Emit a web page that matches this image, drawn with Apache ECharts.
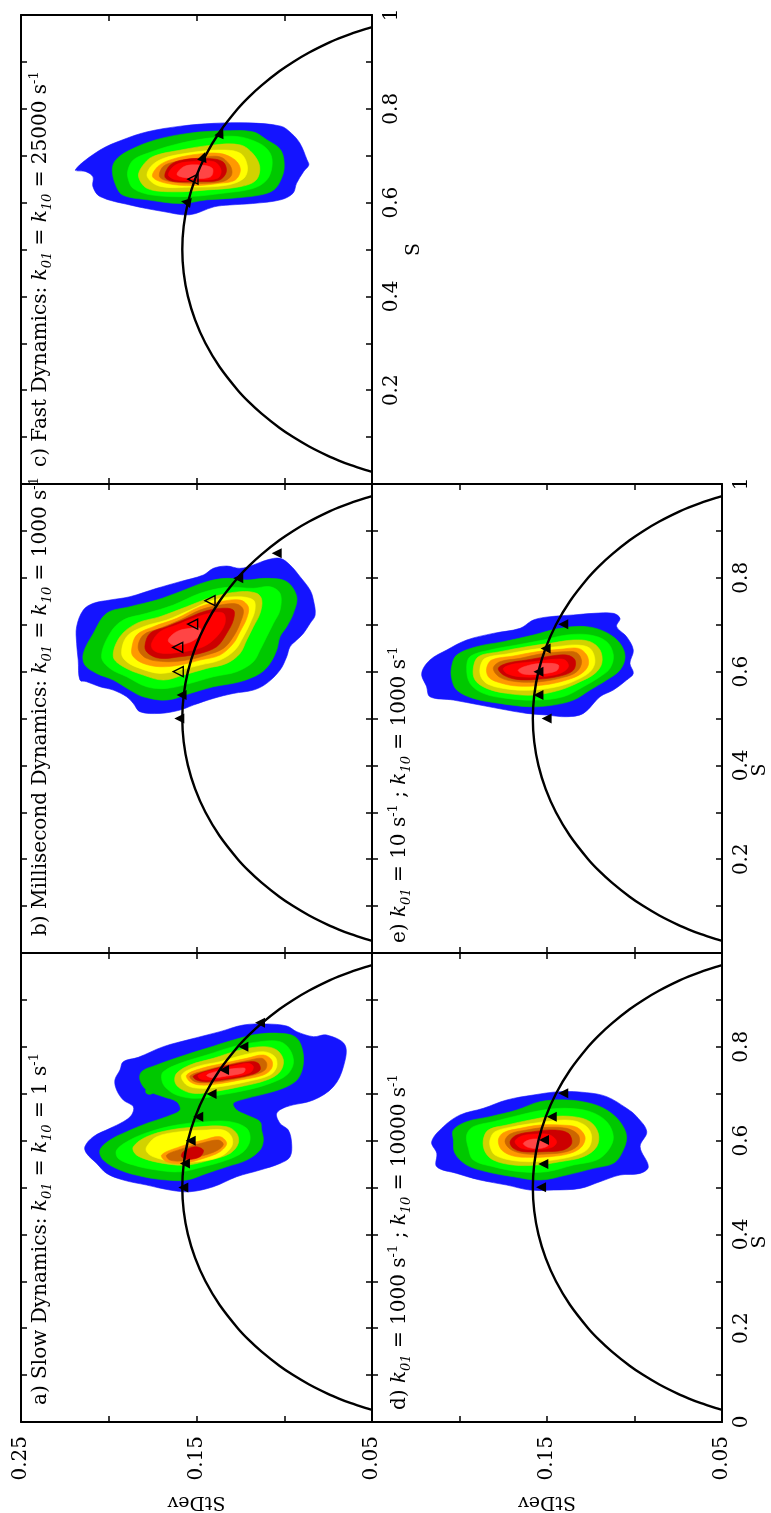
<!DOCTYPE html>
<html><head><meta charset="utf-8">
<script src="https://cdn.jsdelivr.net/npm/echarts@6/dist/echarts.min.js"></script>
<style>html,body{margin:0;padding:0;background:#fff}#chart{width:771px;height:1513px}</style>
</head><body><div id="chart"></div>
<script>
// ---------------- DATA ----------------
// theoretical curve StDev vs S
const arcS  = [0.0257,0.03,0.04,0.05,0.06,0.08,0.1,0.12,0.15,0.175,0.2,0.25,0.3,0.35,0.4,0.45,0.5,0.55,0.6,0.65,0.7,0.75,0.8,0.825,0.85,0.88,0.9,0.92,0.94,0.95,0.96,0.97,0.9743];
const arcSD = [0.0500,0.0539,0.0620,0.0689,0.0751,0.0858,0.0949,0.1028,0.1129,0.1202,0.1265,0.1369,0.1449,0.1508,0.1549,0.1573,0.1581,0.1573,0.1549,0.1508,0.1449,0.1369,0.1265,0.1202,0.1129,0.1028,0.0949,0.0858,0.0751,0.0689,0.0620,0.0539,0.0500];

const sdTickLabelsLeft  = [0.25, 0.15, 0.05];
const sdTickLabelsRight = [0.15, 0.05];
const sTickLabelsC = [0.2, 0.4, 0.6, 0.8, 1];
const sTickLabelsE = [0.2, 0.4, 0.6, 0.8, 1];
const sTickLabelsD = [0, 0.2, 0.4, 0.6, 0.8];

const titleA = 'a) Slow Dynamics: {i|k}{sub|01} = {i|k}{sub|10} = 1 s{sup|-1}';
const titleB = 'b) Millisecond Dynamics: {i|k}{sub|01} = {i|k}{sub|10} = 1000 s{sup|-1}';
const titleC = 'c) Fast Dynamics: {i|k}{sub|01} = {i|k}{sub|10} = 25000 s{sup|-1}';
const titleD = 'd) {i|k}{sub|01} = 1000 s{sup|-1} ; {i|k}{sub|10} = 10000 s{sup|-1}';
const titleE = 'e) {i|k}{sub|01} = 10 s{sup|-1} ; {i|k}{sub|10} = 1000 s{sup|-1}';

// contour levels: [levelIndex, [[StDev, S], ...]]
const contourC = [
 [0,[[0.219,0.670],[0.205,0.712],[0.192,0.734],[0.178,0.751],[0.159,0.763],[0.140,0.769],[0.121,0.770],[0.102,0.763],[0.096,0.748],[0.091,0.726],[0.087,0.691],[0.086,0.680],[0.089,0.666],[0.093,0.641],[0.095,0.620],[0.102,0.606],[0.118,0.598],[0.131,0.595],[0.140,0.591],[0.154,0.574],[0.169,0.581],[0.188,0.595],[0.205,0.613],[0.209,0.634],[0.209,0.655],[0.213,0.666]]],
 [1,[[0.198,0.670],[0.196,0.691],[0.188,0.712],[0.173,0.734],[0.154,0.748],[0.135,0.753],[0.118,0.751],[0.110,0.734],[0.102,0.712],[0.100,0.677],[0.102,0.648],[0.106,0.627],[0.114,0.616],[0.131,0.609],[0.144,0.606],[0.159,0.598],[0.178,0.606],[0.192,0.616],[0.196,0.637]]],
 [2,[[0.189,0.670],[0.186,0.691],[0.178,0.705],[0.163,0.723],[0.144,0.737],[0.127,0.741],[0.114,0.726],[0.108,0.705],[0.107,0.677],[0.110,0.648],[0.118,0.630],[0.135,0.620],[0.154,0.613],[0.175,0.616],[0.186,0.630],[0.189,0.652]]],
 [3,[[0.183,0.655],[0.181,0.677],[0.175,0.698],[0.159,0.712],[0.140,0.723],[0.125,0.723],[0.118,0.705],[0.114,0.677],[0.116,0.648],[0.125,0.634],[0.144,0.627],[0.163,0.623],[0.178,0.630]]],
 [4,[[0.178,0.655],[0.176,0.677],[0.169,0.694],[0.156,0.705],[0.137,0.712],[0.125,0.705],[0.121,0.677],[0.123,0.652],[0.133,0.637],[0.152,0.633],[0.171,0.635]]],
 [5,[[0.175,0.655],[0.172,0.677],[0.165,0.691],[0.152,0.702],[0.137,0.705],[0.128,0.691],[0.125,0.670],[0.128,0.648],[0.137,0.641],[0.152,0.636],[0.167,0.641]]],
 [6,[[0.171,0.655],[0.169,0.677],[0.162,0.687],[0.150,0.694],[0.137,0.698],[0.131,0.680],[0.130,0.659],[0.135,0.645],[0.150,0.641],[0.165,0.645]]],
 [7,[[0.168,0.655],[0.165,0.680],[0.158,0.691],[0.144,0.694],[0.135,0.687],[0.133,0.666],[0.137,0.648],[0.148,0.645],[0.163,0.645]]],
 [8,[[0.166,0.659],[0.162,0.680],[0.154,0.687],[0.140,0.687],[0.136,0.669],[0.138,0.652],[0.150,0.648],[0.161,0.648]]],
 [9,[[0.161,0.659],[0.157,0.677],[0.148,0.680],[0.141,0.673],[0.142,0.655],[0.152,0.652]]]
];
const contourB = [
 [0,[[0.2183,0.6957],[0.2145,0.7313],[0.2088,0.7455],[0.1993,0.7526],[0.1879,0.7597],[0.1727,0.7775],[0.1594,0.7917],[0.1461,0.8059],[0.1404,0.8201],[0.1328,0.8251],[0.1252,0.8201],[0.1176,0.8273],[0.1100,0.8379],[0.1024,0.8415],[0.0967,0.8273],[0.0910,0.8024],[0.0853,0.7739],[0.0834,0.7526],[0.0824,0.7206],[0.0853,0.7028],[0.0891,0.6815],[0.0929,0.6673],[0.0967,0.6531],[0.0986,0.6317],[0.1024,0.6033],[0.1100,0.5749],[0.1176,0.5606],[0.1290,0.5535],[0.1404,0.5429],[0.1518,0.5286],[0.1594,0.5180],[0.1708,0.5109],[0.1822,0.5144],[0.1860,0.5322],[0.1898,0.5464],[0.1974,0.5606],[0.2050,0.5677],[0.2126,0.5784],[0.2164,0.5820],[0.2174,0.6246],[0.2183,0.6602]]],
 [1,[[0.2145,0.6388],[0.2088,0.6815],[0.2012,0.7242],[0.1879,0.7384],[0.1727,0.7526],[0.1594,0.7704],[0.1442,0.7917],[0.1328,0.7988],[0.1214,0.7953],[0.1100,0.7988],[0.0986,0.7917],[0.0929,0.7597],[0.0948,0.7242],[0.0986,0.6957],[0.1024,0.6744],[0.1043,0.6459],[0.1081,0.6175],[0.1138,0.5962],[0.1252,0.5784],[0.1404,0.5677],[0.1537,0.5535],[0.1670,0.5393],[0.1803,0.5464],[0.1879,0.5606],[0.1974,0.5820],[0.2069,0.5962],[0.2136,0.6140]]],
 [2,[[0.2041,0.6317],[0.1993,0.6815],[0.1917,0.7100],[0.1784,0.7242],[0.1632,0.7419],[0.1480,0.7668],[0.1328,0.7796],[0.1176,0.7775],[0.1081,0.7810],[0.1024,0.7668],[0.1024,0.7313],[0.1062,0.7028],[0.1100,0.6744],[0.1138,0.6459],[0.1176,0.6211],[0.1271,0.5997],[0.1404,0.5891],[0.1537,0.5749],[0.1670,0.5642],[0.1784,0.5677],[0.1898,0.5891],[0.1993,0.6068]]],
 [3,[[0.1974,0.6317],[0.1936,0.6744],[0.1841,0.7028],[0.1708,0.7171],[0.1556,0.7384],[0.1404,0.7597],[0.1252,0.7704],[0.1157,0.7668],[0.1128,0.7526],[0.1138,0.7242],[0.1176,0.6957],[0.1214,0.6673],[0.1252,0.6388],[0.1328,0.6175],[0.1442,0.6068],[0.1575,0.5926],[0.1689,0.5820],[0.1803,0.5926],[0.1917,0.6104]]],
 [4,[[0.1927,0.6388],[0.1898,0.6744],[0.1803,0.6957],[0.1670,0.7100],[0.1537,0.7313],[0.1404,0.7526],[0.1271,0.7597],[0.1176,0.7526],[0.1167,0.7313],[0.1195,0.7028],[0.1233,0.6744],[0.1281,0.6459],[0.1366,0.6246],[0.1480,0.6140],[0.1594,0.6033],[0.1708,0.5962],[0.1822,0.6068],[0.1898,0.6211]]],
 [5,[[0.1870,0.6459],[0.1841,0.6779],[0.1746,0.6957],[0.1613,0.7135],[0.1480,0.7384],[0.1366,0.7490],[0.1252,0.7526],[0.1205,0.7384],[0.1214,0.7135],[0.1252,0.6851],[0.1290,0.6602],[0.1366,0.6353],[0.1480,0.6246],[0.1594,0.6140],[0.1708,0.6104],[0.1803,0.6175],[0.1860,0.6317]]],
 [6,[[0.1832,0.6495],[0.1803,0.6779],[0.1708,0.6922],[0.1594,0.7100],[0.1480,0.7313],[0.1366,0.7419],[0.1271,0.7441],[0.1233,0.7313],[0.1252,0.7028],[0.1290,0.6744],[0.1347,0.6495],[0.1442,0.6353],[0.1556,0.6246],[0.1670,0.6211],[0.1784,0.6282]]],
 [7,[[0.1794,0.6531],[0.1765,0.6815],[0.1670,0.6957],[0.1575,0.7100],[0.1461,0.7277],[0.1366,0.7348],[0.1290,0.7313],[0.1290,0.7100],[0.1328,0.6815],[0.1385,0.6531],[0.1480,0.6388],[0.1594,0.6317],[0.1708,0.6282],[0.1775,0.6388]]],
 [8,[[0.1756,0.6602],[0.1708,0.6851],[0.1613,0.6993],[0.1518,0.7135],[0.1423,0.7242],[0.1347,0.7242],[0.1338,0.7028],[0.1385,0.6744],[0.1461,0.6531],[0.1575,0.6424],[0.1689,0.6388],[0.1746,0.6459]]],
 [9,[[0.1661,0.6673],[0.1613,0.6851],[0.1537,0.6922],[0.1480,0.6922],[0.1490,0.6744],[0.1556,0.6602],[0.1632,0.6566]]]
];
const contourA = [
 [0,[[0.2136,0.5870],[0.2088,0.6083],[0.1993,0.6261],[0.1917,0.6403],[0.1870,0.6545],[0.1860,0.6723],[0.1917,0.6865],[0.1955,0.7078],[0.1965,0.7292],[0.1936,0.7505],[0.1917,0.7683],[0.1832,0.7775],[0.1689,0.8003],[0.1537,0.8159],[0.1366,0.8323],[0.1233,0.8465],[0.1100,0.8486],[0.0986,0.8443],[0.0929,0.8323],[0.0834,0.8216],[0.0758,0.8251],[0.0654,0.8038],[0.0663,0.7576],[0.0720,0.7149],[0.0834,0.6865],[0.0986,0.6723],[0.1043,0.6581],[0.1024,0.6367],[0.0977,0.6225],[0.0958,0.5941],[0.0967,0.5656],[0.1024,0.5514],[0.1138,0.5372],[0.1271,0.5230],[0.1404,0.5016],[0.1537,0.4910],[0.1651,0.4945],[0.1784,0.5052],[0.1917,0.5159],[0.2012,0.5301],[0.2069,0.5514],[0.2126,0.5727]]],
 [1,[[0.1813,0.7469],[0.1727,0.7612],[0.1594,0.7789],[0.1442,0.7967],[0.1290,0.8145],[0.1157,0.8266],[0.1024,0.8287],[0.0939,0.8216],[0.0901,0.8003],[0.0891,0.7647],[0.0920,0.7327],[0.0986,0.7149],[0.1100,0.7007],[0.1214,0.6901],[0.1290,0.6794],[0.1271,0.6652],[0.1214,0.6545],[0.1138,0.6403],[0.1129,0.6225],[0.1119,0.6012],[0.1138,0.5798],[0.1214,0.5585],[0.1328,0.5443],[0.1442,0.5301],[0.1556,0.5159],[0.1670,0.5159],[0.1803,0.5230],[0.1936,0.5372],[0.2031,0.5585],[0.2050,0.5798],[0.1993,0.6012],[0.1898,0.6190],[0.1784,0.6367],[0.1670,0.6510],[0.1594,0.6652],[0.1613,0.6829],[0.1689,0.6936],[0.1784,0.7078],[0.1822,0.7292]]],
 [1,[[0.1784,0.7114],[0.1756,0.7135],[0.1742,0.7043],[0.1765,0.6986],[0.1788,0.7021]]],
 [2,[[0.1689,0.7469],[0.1594,0.7647],[0.1442,0.7825],[0.1290,0.8003],[0.1138,0.8109],[0.1024,0.8109],[0.0967,0.7932],[0.0948,0.7647],[0.0986,0.7398],[0.1081,0.7220],[0.1214,0.7078],[0.1366,0.6972],[0.1499,0.6901],[0.1613,0.6972],[0.1680,0.7149],[0.1699,0.7327]]],
 [2,[[0.1955,0.5798],[0.1879,0.6012],[0.1765,0.6190],[0.1613,0.6332],[0.1442,0.6403],[0.1309,0.6403],[0.1214,0.6261],[0.1195,0.6012],[0.1233,0.5763],[0.1328,0.5585],[0.1461,0.5443],[0.1594,0.5336],[0.1727,0.5372],[0.1860,0.5479],[0.1946,0.5621]]],
 [3,[[0.1613,0.7434],[0.1537,0.7612],[0.1404,0.7754],[0.1252,0.7932],[0.1119,0.8003],[0.1043,0.7932],[0.1005,0.7718],[0.1024,0.7469],[0.1100,0.7292],[0.1252,0.7149],[0.1404,0.7043],[0.1518,0.7007],[0.1594,0.7114],[0.1623,0.7256]]],
 [3,[[0.1860,0.5870],[0.1784,0.6083],[0.1651,0.6225],[0.1480,0.6296],[0.1328,0.6296],[0.1271,0.6154],[0.1262,0.5941],[0.1309,0.5727],[0.1423,0.5585],[0.1556,0.5479],[0.1689,0.5514],[0.1803,0.5621],[0.1851,0.5727]]],
 [4,[[0.1585,0.7398],[0.1499,0.7576],[0.1366,0.7683],[0.1233,0.7825],[0.1119,0.7896],[0.1053,0.7789],[0.1043,0.7576],[0.1081,0.7398],[0.1214,0.7256],[0.1366,0.7149],[0.1480,0.7114],[0.1556,0.7185]]],
 [4,[[0.1784,0.5870],[0.1727,0.6083],[0.1594,0.6190],[0.1442,0.6225],[0.1347,0.6225],[0.1300,0.6083],[0.1300,0.5870],[0.1366,0.5656],[0.1499,0.5550],[0.1632,0.5550],[0.1746,0.5656],[0.1784,0.5763]]],
 [5,[[0.1556,0.7398],[0.1471,0.7540],[0.1347,0.7647],[0.1214,0.7754],[0.1119,0.7825],[0.1072,0.7718],[0.1072,0.7540],[0.1119,0.7398],[0.1252,0.7292],[0.1385,0.7206],[0.1480,0.7185],[0.1537,0.7256]]],
 [5,[[0.1699,0.5692],[0.1594,0.5870],[0.1461,0.6012],[0.1366,0.6083],[0.1328,0.5941],[0.1366,0.5763],[0.1461,0.5621],[0.1575,0.5514],[0.1670,0.5550]]],
 [6,[[0.1537,0.7377],[0.1442,0.7505],[0.1328,0.7612],[0.1195,0.7718],[0.1128,0.7754],[0.1100,0.7647],[0.1110,0.7505],[0.1176,0.7398],[0.1309,0.7292],[0.1423,0.7235],[0.1509,0.7256]]],
 [6,[[0.1670,0.5692],[0.1575,0.5834],[0.1461,0.5955],[0.1376,0.6012],[0.1347,0.5919],[0.1385,0.5784],[0.1471,0.5670],[0.1575,0.5571],[0.1651,0.5585]]],
 [7,[[0.1518,0.7377],[0.1423,0.7505],[0.1309,0.7612],[0.1195,0.7683],[0.1148,0.7647],[0.1138,0.7505],[0.1195,0.7398],[0.1328,0.7306],[0.1442,0.7256],[0.1499,0.7292]]],
 [7,[[0.1575,0.5763],[0.1509,0.5870],[0.1461,0.5798],[0.1480,0.5656],[0.1547,0.5599],[0.1585,0.5656]]],
 [8,[[0.1490,0.7398],[0.1404,0.7505],[0.1290,0.7590],[0.1205,0.7647],[0.1176,0.7576],[0.1195,0.7448],[0.1309,0.7349],[0.1423,0.7292],[0.1480,0.7320]]],
 [9,[[0.1442,0.7398],[0.1366,0.7491],[0.1271,0.7540],[0.1224,0.7540],[0.1233,0.7448],[0.1328,0.7377],[0.1414,0.7341]]]
];
const contourD = [
 [0,[[0.2159,0.5977],[0.2092,0.6297],[0.1997,0.6546],[0.1864,0.6688],[0.1730,0.6866],[0.1578,0.6972],[0.1426,0.7043],[0.1273,0.7022],[0.1159,0.6937],[0.1045,0.6688],[0.0987,0.6510],[0.0930,0.6190],[0.0968,0.5870],[0.0921,0.5444],[0.0968,0.5301],[0.1083,0.5266],[0.1197,0.5124],[0.1311,0.4981],[0.1464,0.4946],[0.1597,0.4946],[0.1730,0.5052],[0.1883,0.5159],[0.2016,0.5301],[0.2130,0.5444],[0.2130,0.5728]]],
 [1,[[0.2035,0.6226],[0.1959,0.6403],[0.1826,0.6510],[0.1673,0.6652],[0.1540,0.6830],[0.1388,0.6866],[0.1254,0.6795],[0.1159,0.6652],[0.1083,0.6403],[0.1045,0.6083],[0.1073,0.5728],[0.1121,0.5515],[0.1235,0.5408],[0.1388,0.5266],[0.1540,0.5159],[0.1692,0.5230],[0.1845,0.5337],[0.1959,0.5479],[0.2026,0.5728],[0.2035,0.6012]]],
 [2,[[0.1959,0.6119],[0.1921,0.6297],[0.1807,0.6403],[0.1654,0.6546],[0.1521,0.6652],[0.1388,0.6688],[0.1254,0.6617],[0.1159,0.6403],[0.1121,0.6083],[0.1149,0.5799],[0.1216,0.5586],[0.1349,0.5479],[0.1502,0.5337],[0.1654,0.5337],[0.1807,0.5444],[0.1921,0.5586],[0.1949,0.5835]]],
 [3,[[0.1864,0.6012],[0.1835,0.6226],[0.1730,0.6332],[0.1597,0.6439],[0.1483,0.6510],[0.1349,0.6510],[0.1254,0.6403],[0.1207,0.6155],[0.1216,0.5870],[0.1292,0.5657],[0.1426,0.5550],[0.1559,0.5479],[0.1692,0.5479],[0.1807,0.5586],[0.1854,0.5764]]],
 [4,[[0.1826,0.6012],[0.1797,0.6190],[0.1692,0.6297],[0.1578,0.6368],[0.1464,0.6425],[0.1349,0.6425],[0.1273,0.6297],[0.1245,0.6083],[0.1264,0.5835],[0.1330,0.5692],[0.1464,0.5586],[0.1597,0.5550],[0.1711,0.5586],[0.1797,0.5692],[0.1822,0.5835]]],
 [5,[[0.1778,0.6012],[0.1749,0.6169],[0.1654,0.6261],[0.1540,0.6332],[0.1426,0.6332],[0.1330,0.6283],[0.1283,0.6083],[0.1302,0.5870],[0.1368,0.5728],[0.1483,0.5657],[0.1597,0.5643],[0.1692,0.5671],[0.1759,0.5799]]],
 [6,[[0.1740,0.5977],[0.1711,0.6140],[0.1616,0.6226],[0.1502,0.6282],[0.1388,0.6261],[0.1321,0.6119],[0.1321,0.5906],[0.1388,0.5764],[0.1502,0.5714],[0.1616,0.5714],[0.1702,0.5799]]],
 [7,[[0.1711,0.5977],[0.1673,0.6119],[0.1578,0.6190],[0.1464,0.6226],[0.1378,0.6155],[0.1359,0.5941],[0.1407,0.5799],[0.1521,0.5764],[0.1635,0.5764],[0.1692,0.5835]]],
 [8,[[0.1683,0.5977],[0.1645,0.6098],[0.1559,0.6140],[0.1483,0.6119],[0.1445,0.5977],[0.1473,0.5856],[0.1559,0.5813],[0.1645,0.5835]]],
 [9,[[0.1635,0.5941],[0.1588,0.6027],[0.1521,0.6012],[0.1492,0.5906],[0.1540,0.5835],[0.1607,0.5856]]]
];
const contourE = [
 [0,[[0.2216,0.5962],[0.2169,0.6247],[0.2073,0.6460],[0.1959,0.6673],[0.1807,0.6815],[0.1654,0.6922],[0.1578,0.7100],[0.1483,0.7171],[0.1349,0.7207],[0.1235,0.7242],[0.1121,0.7242],[0.1083,0.7135],[0.1102,0.6958],[0.1045,0.6744],[0.1007,0.6460],[0.1026,0.6176],[0.1007,0.5962],[0.1045,0.5820],[0.1121,0.5607],[0.1197,0.5465],[0.1292,0.5109],[0.1388,0.5038],[0.1502,0.5074],[0.1616,0.5109],[0.1730,0.5180],[0.1883,0.5287],[0.2035,0.5393],[0.2169,0.5465],[0.2188,0.5678]]],
 [1,[[0.2045,0.6104],[0.2016,0.6353],[0.1902,0.6531],[0.1749,0.6638],[0.1578,0.6780],[0.1426,0.6922],[0.1273,0.6958],[0.1159,0.6830],[0.1083,0.6602],[0.1054,0.6318],[0.1083,0.6033],[0.1159,0.5820],[0.1254,0.5607],[0.1349,0.5393],[0.1464,0.5287],[0.1597,0.5251],[0.1769,0.5322],[0.1921,0.5429],[0.2016,0.5607],[0.2045,0.5856]]],
 [2,[[0.1959,0.6069],[0.1940,0.6318],[0.1826,0.6460],[0.1673,0.6567],[0.1521,0.6673],[0.1388,0.6780],[0.1254,0.6780],[0.1159,0.6638],[0.1121,0.6353],[0.1140,0.6069],[0.1197,0.5891],[0.1292,0.5678],[0.1407,0.5465],[0.1559,0.5393],[0.1730,0.5429],[0.1864,0.5536],[0.1940,0.5749]]],
 [3,[[0.1921,0.6069],[0.1892,0.6318],[0.1769,0.6424],[0.1616,0.6531],[0.1483,0.6602],[0.1349,0.6673],[0.1254,0.6638],[0.1197,0.6460],[0.1187,0.6176],[0.1226,0.5962],[0.1311,0.5784],[0.1426,0.5607],[0.1578,0.5500],[0.1730,0.5536],[0.1845,0.5642],[0.1911,0.5820]]],
 [4,[[0.1883,0.6069],[0.1854,0.6282],[0.1730,0.6375],[0.1578,0.6474],[0.1445,0.6531],[0.1330,0.6567],[0.1254,0.6495],[0.1226,0.6247],[0.1245,0.6033],[0.1311,0.5856],[0.1426,0.5692],[0.1578,0.5607],[0.1711,0.5621],[0.1826,0.5713],[0.1873,0.5855]]],
 [5,[[0.1845,0.6069],[0.1816,0.6247],[0.1692,0.6332],[0.1559,0.6424],[0.1426,0.6474],[0.1321,0.6495],[0.1273,0.6353],[0.1264,0.6140],[0.1302,0.5962],[0.1388,0.5820],[0.1521,0.5713],[0.1673,0.5692],[0.1788,0.5784],[0.1835,0.5891]]],
 [6,[[0.1807,0.6069],[0.1769,0.6211],[0.1654,0.6282],[0.1540,0.6375],[0.1407,0.6424],[0.1330,0.6403],[0.1302,0.6211],[0.1330,0.5998],[0.1407,0.5877],[0.1540,0.5784],[0.1673,0.5784],[0.1769,0.5877]]],
 [7,[[0.1778,0.6069],[0.1730,0.6176],[0.1616,0.6247],[0.1502,0.6318],[0.1388,0.6353],[0.1340,0.6247],[0.1349,0.6033],[0.1426,0.5905],[0.1559,0.5834],[0.1673,0.5834],[0.1749,0.5927]]],
 [8,[[0.1749,0.6069],[0.1692,0.6161],[0.1578,0.6211],[0.1464,0.6261],[0.1397,0.6247],[0.1378,0.6104],[0.1426,0.5962],[0.1540,0.5891],[0.1654,0.5891],[0.1730,0.5962]]],
 [9,[[0.1664,0.6033],[0.1597,0.6140],[0.1502,0.6176],[0.1435,0.6140],[0.1445,0.6019],[0.1540,0.5948],[0.1635,0.5948]]]
];

// triangle markers [StDev, S]
const marksAFilled = [[0.1138,0.8515],[0.1233,0.8003],[0.1343,0.7505],[0.1414,0.6993],[0.1490,0.6510],[0.1533,0.5998],[0.1566,0.5514],[0.1575,0.5002]];
const marksBFilled = [[0.1043,0.8521],[0.1262,0.7988],[0.1585,0.5500],[0.1598,0.5002]];
const marksBOpen   = [[0.1423,0.7512],[0.1522,0.7014],[0.1607,0.6516],[0.1604,0.6000]];
const marksCFilled = [[0.136,0.749],[0.146,0.698],[0.156,0.601]];
const marksCOpen   = [[0.152,0.650]];
const marksDFilled = [[0.1407,0.7008],[0.1473,0.6510],[0.1517,0.6012],[0.1521,0.5500],[0.1534,0.5003]];
const marksEFilled = [[0.1407,0.7007],[0.1508,0.6495],[0.1549,0.5998],[0.1549,0.5500],[0.1502,0.5002]];

// ---------------- STYLE / LAYOUT ----------------
const FONT = 'DejaVu Serif';
const levelColors = ['#1414ff','#00c800','#00ff00','#d2d200','#ffff00','#ff9900','#cc6600','#cc0000','#ff0000','#ff4545'];
// orientation of the arrowheads (degrees) for panel c, which follow the curve
const rotC = [-25, -20, 80];

const panels = [
  {grid:{left:21,top:15,width:351,height:469},  polys:contourC, filled:marksCFilled, open:marksCOpen, rot:rotC, title:titleC, tx:41,  ty:467,  sLabels:sTickLabelsC, sdLabels:null, sdName:'', sName:'S'},
  {grid:{left:21,top:484,width:351,height:469}, polys:contourB, filled:marksBFilled, open:marksBOpen, rot:null, title:titleB, tx:41,  ty:936,  sLabels:null, sdLabels:null, sdName:'', sName:''},
  {grid:{left:21,top:953,width:351,height:469}, polys:contourA, filled:marksAFilled, open:[], rot:null, title:titleA, tx:41,  ty:1405, sLabels:null, sdLabels:sdTickLabelsLeft, sdName:'StDev', sName:''},
  {grid:{left:372,top:484,width:350,height:469},polys:contourE, filled:marksEFilled, open:[], rot:null, title:titleE, tx:400, ty:943,  sLabels:sTickLabelsE, sdLabels:null, sdName:'', sName:''},
  {grid:{left:372,top:953,width:350,height:469},polys:contourD, filled:marksDFilled, open:[], rot:null, title:titleD, tx:400, ty:1410, sLabels:sTickLabelsD, sdLabels:sdTickLabelsRight, sdName:'StDev', sName:''}
];

function pickFormatter(labels, fmt){
  return v => { for (const t of labels) { if (Math.abs(t - v) < 1e-6) return fmt(t); } return ''; };
}
const txt = {fontFamily:FONT, fontSize:20, color:'#000'};
const richTitle = {
  i:{fontFamily:FONT, fontSize:20, fontStyle:'italic', lineHeight:26},
  sub:{fontFamily:FONT, fontSize:13, fontStyle:'italic', verticalAlign:'bottom'},
  sup:{fontFamily:FONT, fontSize:13, verticalAlign:'top'}
};

const grids=[], xAxes=[], yAxes=[], series=[], graphics=[];
const arcData = arcS.map((s,k)=>[arcSD[k], s]);

panels.forEach((p,i)=>{
  grids.push(Object.assign({containLabel:false}, p.grid));
  const tick = {show:true, inside:true, length:6, lineStyle:{color:'#000', width:1.5}};
  const line = {show:true, onZero:false, lineStyle:{color:'#000', width:2}};
  const sdBase = {gridIndex:i, type:'value', min:0.05, max:0.25, interval:0.05, inverse:true, axisLine:line, axisTick:tick, splitLine:{show:false}};
  xAxes.push(Object.assign({}, sdBase, {position:'bottom',
    axisLabel: p.sdLabels ? Object.assign({show:true, rotate:90, margin:14, formatter:pickFormatter(p.sdLabels, t=>t.toFixed(2))}, txt) : {show:false},
    name:p.sdName, nameLocation:'middle', nameGap:70, nameRotate:180, nameTextStyle:Object.assign({}, txt, {fontSize:19})}));
  xAxes.push(Object.assign({}, sdBase, {position:'top', axisLabel:{show:false}}));
  const sBase = {gridIndex:i, type:'value', min:0, max:1, interval:0.1, axisLine:line, axisTick:tick, splitLine:{show:false}};
  yAxes.push(Object.assign({}, sBase, {position:'left', axisLabel:{show:false}}));
  yAxes.push(Object.assign({}, sBase, {position:'right',
    axisLabel: p.sLabels ? Object.assign({show:true, rotate:90, margin:10, formatter:pickFormatter(p.sLabels, t=>String(t))}, txt) : {show:false},
    name:p.sName, nameLocation:'middle', nameGap:33, nameRotate:90, nameTextStyle:Object.assign({}, txt, {fontSize:19})}));
  const xi = 2*i, yi = 2*i;
  const polys = p.polys;
  series.push({type:'custom', xAxisIndex:xi, yAxisIndex:yi, silent:true, z:2,
    data: polys.map(pl => pl[1][0]),
    renderItem:(params, api)=>{
      const pl = polys[params.dataIndex];
      const pts = pl[1].map(pt => api.coord(pt));
      const c = levelColors[pl[0]];
      return {type:'polygon', shape:{points:pts, smooth:0.35}, style:{fill:c, stroke:c, lineWidth:0.6}};
    }});
  series.push({type:'line', xAxisIndex:xi, yAxisIndex:yi, data:arcData, symbol:'none', smooth:0.3, silent:true, z:3,
    lineStyle:{color:'#000', width:2.4}});
  const filledData = p.filled.map((v,k)=> p.rot ? {value:v, symbolRotate:p.rot[k]} : {value:v});
  series.push({type:'scatter', xAxisIndex:xi, yAxisIndex:yi, data:filledData, symbol:'triangle', symbolSize:10, symbolRotate:90, silent:true, z:4,
    itemStyle:{color:'#000', opacity:1}});
  if (p.open.length) series.push({type:'scatter', xAxisIndex:xi, yAxisIndex:yi, data:p.open, symbol:'triangle', symbolSize:10, symbolRotate:90, silent:true, z:4,
    itemStyle:{color:'rgba(0,0,0,0)', borderColor:'#000', borderWidth:1.4, opacity:1}});
  graphics.push({type:'text', x:p.tx, y:p.ty, rotation:Math.PI/2, silent:true, z:10,
    style:{text:p.title, fontFamily:FONT, fontSize:20, lineHeight:26, fill:'#000', align:'left', verticalAlign:'middle', rich:richTitle}});
});
// S axis titles of the lower-row panels
graphics.push({type:'text', x:760, y:770, rotation:Math.PI/2, silent:true, style:{text:'S', fontFamily:FONT, fontSize:19, fill:'#000', align:'center', verticalAlign:'middle'}});
graphics.push({type:'text', x:760, y:1242, rotation:Math.PI/2, silent:true, style:{text:'S', fontFamily:FONT, fontSize:19, fill:'#000', align:'center', verticalAlign:'middle'}});

const chart = echarts.init(document.getElementById('chart'), null, {renderer:'canvas'});
chart.setOption({animation:false, backgroundColor:'#fff', grid:grids, xAxis:xAxes, yAxis:yAxes, series:series, graphic:graphics});
</script></body></html>
